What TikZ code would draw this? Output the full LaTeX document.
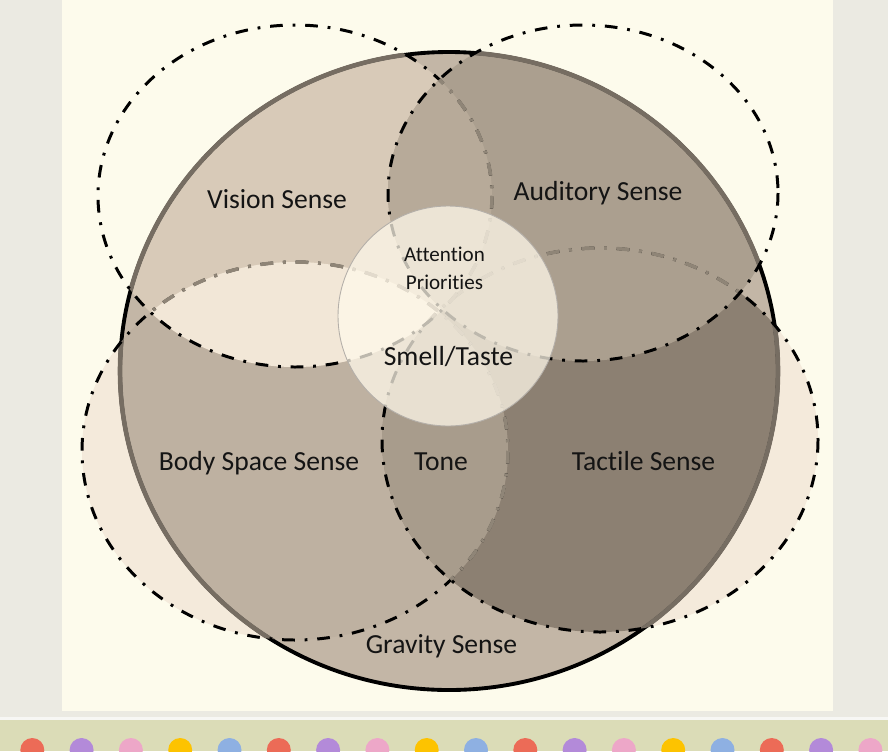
\documentclass[tikz,border=0pt]{standalone}
\usepackage{fontspec}
\setmainfont{Carlito}[Ligatures=CommonOff]

\definecolor{pagegray}{HTML}{EBEAE2}
\definecolor{slidecream}{HTML}{FDFBEC}
\definecolor{stripgreen}{HTML}{DBDCB7}
\definecolor{outercream}{HTML}{F4EADB}
\definecolor{gravityfill}{HTML}{C3B6A6}
\definecolor{bodyfill}{HTML}{BEB1A1}
\definecolor{tactilefill}{HTML}{8C8072}
\definecolor{tonefill}{HTML}{A89C8C}
\definecolor{visionfill}{HTML}{D8CAB8}
\definecolor{lensfill}{HTML}{F2E7D7}
\definecolor{auditoryfill}{HTML}{AB9F8F}
\definecolor{toplensfill}{HTML}{B7AA99}
\definecolor{midlensfill}{HTML}{C9BCAB}
\definecolor{attnfill}{HTML}{FFF9EA}
\definecolor{hiddenline}{HTML}{8F8577}
\definecolor{rimgray}{HTML}{766D62}
\definecolor{dotred}{HTML}{EC6B57}
\definecolor{dotpurple}{HTML}{B38AD9}
\definecolor{dotpink}{HTML}{EDA7C8}
\definecolor{dotyellow}{HTML}{FDC300}
\definecolor{dotblue}{HTML}{8EB0E2}

% outlines of the senses
\newcommand{\bigring}{(449,371) ellipse [x radius=329, y radius=319]}
\newcommand{\visionpath}{(295,196) ellipse [x radius=197, y radius=171]}
\newcommand{\auditorypath}{(583,193) ellipse [x radius=195, y radius=168]}
\newcommand{\bodypath}{(295,451) ellipse [x radius=213, y radius=189]}
\newcommand{\tactilepath}{(600,440) ellipse [x radius=218, y radius=192]}
\newcommand{\attnpath}{(448,316) circle [radius=110]}

\tikzset{
  senseline/.style={line width=1.7pt, dash pattern=on 7.2pt off 5.6pt on 1.6pt off 5.6pt},
  senseback/.style={senseline, line width=2pt, hiddenline},
  rimline/.style={line width=2.2pt, black},
  rimback/.style={line width=2.6pt, rimgray},
  sensetext/.style={font=\fontsize{15.7}{18}\selectfont, text=black!92, inner sep=0pt, anchor=base},
}

\begin{document}
\begin{tikzpicture}[x=0.02cm, y=-0.02cm]
\useasboundingbox (0,0) rectangle (888,751);

% slide and player strip
\fill[pagegray] (0,0) rectangle (888,751);
\fill[slidecream] (62,0) rectangle (833,711);
\fill[white!60!pagegray] (0,717) rectangle (888,720);
\fill[stripgreen] (0,720) rectangle (888,751);
\foreach \c [count=\i from 0] in {dotred,dotpurple,dotpink,dotyellow,dotblue,dotred,dotpurple,dotpink,dotyellow,dotblue,dotred,dotpurple,dotpink,dotyellow,dotblue,dotred,dotpurple,dotpink}
  \fill[\c] (32.3+49.3*\i,750) circle [radius=12];

% fills
\fill[outercream] \bodypath;
\fill[outercream] \tactilepath;
\fill[gravityfill] \bigring;
\begin{scope}
  \clip \bigring;
  \fill[bodyfill] \bodypath;
  \fill[tactilefill] \tactilepath;
  \begin{scope}
    \clip \bodypath;
    \fill[tonefill] \tactilepath;
  \end{scope}
  \fill[visionfill] \visionpath;
  \begin{scope}
    \clip \visionpath;
    \fill[lensfill] \bodypath;
    \fill[midlensfill] \tactilepath;
  \end{scope}
  \fill[auditoryfill] \auditorypath;
  \begin{scope}
    \clip \auditorypath;
    \fill[toplensfill] \visionpath;
  \end{scope}
\end{scope}

% rim, grey where a sense covers it
\draw[rimline] \bigring;
\begin{scope} \clip \bodypath; \draw[rimback] \bigring; \end{scope}
\begin{scope} \clip \tactilepath; \draw[rimback] \bigring; \end{scope}
\begin{scope} \clip \visionpath; \draw[rimback] \bigring; \end{scope}
\begin{scope} \clip \auditorypath; \draw[rimback] \bigring; \end{scope}

% dashed senses, later ones on top
\draw[senseline] \bodypath;
\begin{scope}
  \clip \bigring;
  \begin{scope} \clip \tactilepath; \draw[senseback] \bodypath; \end{scope}
  \begin{scope} \clip \visionpath; \draw[senseback] \bodypath; \end{scope}
  \begin{scope} \clip \auditorypath; \draw[senseback] \bodypath; \end{scope}
\end{scope}
\draw[senseline] \tactilepath;
\begin{scope}
  \clip \bigring;
  \begin{scope} \clip \visionpath; \draw[senseback] \tactilepath; \end{scope}
  \begin{scope} \clip \auditorypath; \draw[senseback] \tactilepath; \end{scope}
\end{scope}
\draw[senseline] \visionpath;
\begin{scope}
  \clip \bigring;
  \clip \auditorypath;
  \draw[senseback] \visionpath;
\end{scope}
\draw[senseline] \auditorypath;

% attention in the middle
\fill[attnfill, fill opacity=0.74] \attnpath;
\draw[line width=0.5pt, color=rimgray!55] \attnpath;

\node (vision) [sensetext] at (277,208) {Vision Sense};
\node (auditory) [sensetext] at (598,200) {Auditory Sense};
\node (attention) [sensetext, font=\fontsize{12}{15.9}\selectfont, align=center, anchor=center] at (444.5,268.5) {Attention\\Priorities};
\node (smell) [sensetext] at (448.5,365) {Smell/Taste};
\node (body) [sensetext] at (259,470) {Body Space Sense};
\node (tone) [sensetext] at (441,470) {Tone};
\node (tactile) [sensetext] at (643.5,470) {Tactile Sense};
\node (gravity) [sensetext] at (441.5,653) {Gravity Sense};

\end{tikzpicture}
\end{document}
